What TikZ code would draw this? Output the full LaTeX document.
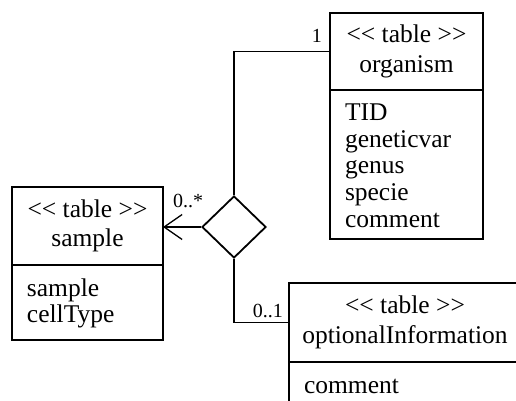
\documentclass[tikz,border=0pt]{standalone}
\usepackage{fontspec}
\setmainfont{Liberation Serif}
\usetikzlibrary{positioning,shapes.geometric,arrows.meta}

\newcommand{\stype}{<\kern0pt< table >\kern0pt>}

\begin{document}
\begin{tikzpicture}[
  x=1pt, y=-1pt,
  head/.style={
    draw,
    rectangle,
    line width=2.4pt,
    align=center,
    inner sep=0pt,
    outer sep=0pt,
    anchor=north west,
    font=\fontsize{25.5}{29.5}\selectfont
  },
  body/.style={
    draw,
    rectangle,
    line width=2.4pt,
    align=left,
    inner xsep=15pt,
    inner ysep=12pt,
    outer sep=0pt,
    text height=19pt,
    font=\fontsize{25.5}{26.5}\selectfont
  },
  mult/.style={
    draw=none,
    fill=none,
    inner sep=0pt,
    font=\fontsize{20}{24}\selectfont
  },
  link/.style={
    line width=1.3pt
  },
  >={Straight Barb[length=18pt,width=25pt]}
]

\useasboundingbox (0,0) rectangle (516,401);
\clip (0,0) rectangle (516,401);

% Tables
\node[head, minimum width=151pt, minimum height=78pt] (smp) at (12,187) {\stype\\sample};
\node[body, text width=121pt, below=0pt of smp] (smpb) {sample\\cellType};

\node[head, minimum width=153pt, minimum height=77pt] (org) at (330,13) {\stype\\organism};
\node[body, text width=123pt, below=0pt of org] (orgb) {TID\\geneticvar\\genus\\specie\\comment};

\node[head, minimum width=232pt, minimum height=79pt] (opt) at (289,283) {\stype\\optionalInformation};
\node[body, text width=202pt, text depth=50pt, below=0pt of opt] (optb) {comment};

% Association
\node[draw, diamond, line width=1.8pt, inner sep=0pt,
  minimum width=64pt, minimum height=62pt] (rel) at (234,227) {};

% Links
\draw[link] (rel.north) |- (org.west);
\draw[link,->] (rel.west) -- (rel.west -| smp.east);
\draw[link] (rel.south) |- (opt.west);

% Multiplicities
\node[mult, anchor=base east] (m1) at (322,43) {1};
\node[mult, anchor=base west] (m2) at (173,207) {0..*};
\node[mult, anchor=base east] (m3) at (283,317) {0..1};

\end{tikzpicture}
\end{document}
